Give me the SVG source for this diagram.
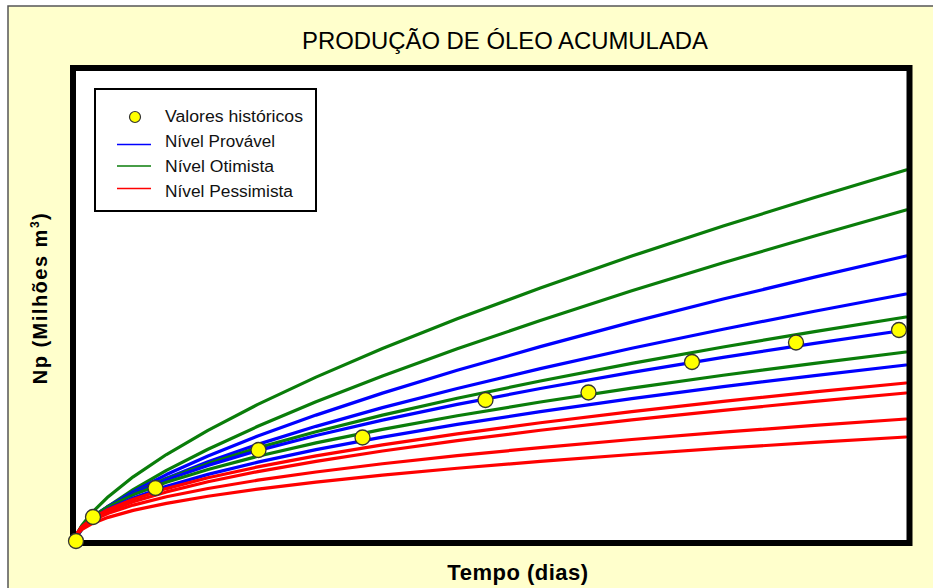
<svg xmlns="http://www.w3.org/2000/svg" width="933" height="588" viewBox="0 0 933 588">
<style>
.cv{fill:none;vector-effect:non-scaling-stroke;stroke-linejoin:round;stroke-linecap:round}
.g{stroke:#0a7d0a;stroke-width:3.2}
.b{stroke:#0000ff;stroke-width:3.2}
.r{stroke:#ff0000;stroke-width:3.2}
.dot{fill:#ffff00;stroke:#333;stroke-width:1.3}
.lt{font-family:"Liberation Sans",Arial,sans-serif;font-size:16px;fill:#111}
.ax{font-family:"Liberation Sans",Arial,sans-serif;font-weight:bold;fill:#000}
</style>
<defs>
<path id="c70" class="cv" d="M0,0 L0.002,0.0129 L0.008,0.0341 L0.02,0.0647 L0.04,0.1051 L0.07,0.1555 L0.11,0.2133 L0.16,0.2772 L0.22,0.3465 L0.29,0.4204 L0.37,0.4987 L0.46,0.5805 L0.56,0.6663 L0.67,0.7558 L0.78,0.8406 L0.89,0.9214 L1,1"/>
<path id="c66" class="cv" d="M0,0 L0.002,0.0165 L0.008,0.0413 L0.02,0.0756 L0.04,0.1195 L0.07,0.1729 L0.11,0.2331 L0.16,0.2982 L0.22,0.3682 L0.29,0.4417 L0.37,0.5189 L0.46,0.5988 L0.56,0.6819 L0.67,0.768 L0.78,0.849 L0.89,0.9257 L1,1"/>
<path id="c62" class="cv" d="M0,0 L0.002,0.0212 L0.008,0.0501 L0.02,0.0884 L0.04,0.1359 L0.07,0.1923 L0.11,0.2545 L0.16,0.321 L0.22,0.3911 L0.29,0.4642 L0.37,0.5399 L0.46,0.6177 L0.56,0.698 L0.67,0.7804 L0.78,0.8575 L0.89,0.9301 L1,1"/>
<path id="c58" class="cv" d="M0,0 L0.002,0.0272 L0.008,0.0608 L0.02,0.1034 L0.04,0.1546 L0.07,0.2139 L0.11,0.278 L0.16,0.3454 L0.22,0.4156 L0.29,0.4878 L0.37,0.5618 L0.46,0.6372 L0.56,0.7144 L0.67,0.793 L0.78,0.8661 L0.89,0.9344 L1,1"/>
<path id="c56" class="cv" d="M0,0 L0.002,0.0308 L0.008,0.067 L0.02,0.1118 L0.04,0.1649 L0.07,0.2256 L0.11,0.2906 L0.16,0.3583 L0.22,0.4283 L0.29,0.4999 L0.37,0.5731 L0.46,0.6472 L0.56,0.7227 L0.67,0.7993 L0.78,0.8703 L0.89,0.9366 L1,1"/>
<path id="c53" class="cv" d="M0,0 L0.002,0.0371 L0.008,0.0774 L0.02,0.1257 L0.04,0.1816 L0.07,0.2443 L0.11,0.3104 L0.16,0.3785 L0.22,0.4482 L0.29,0.5189 L0.37,0.5905 L0.46,0.6625 L0.56,0.7353 L0.67,0.809 L0.78,0.8769 L0.89,0.9399 L1,1"/>
<path id="c50" class="cv" d="M0,0 L0.002,0.0447 L0.008,0.0894 L0.02,0.1414 L0.04,0.2 L0.07,0.2646 L0.11,0.3317 L0.16,0.4 L0.22,0.469 L0.29,0.5385 L0.37,0.6083 L0.46,0.6782 L0.56,0.7483 L0.67,0.8185 L0.78,0.8832 L0.89,0.9434 L1,1"/>
<path id="c46" class="cv" d="M0,0 L0.002,0.0573 L0.008,0.1085 L0.02,0.1654 L0.04,0.2275 L0.07,0.2943 L0.11,0.3623 L0.16,0.4303 L0.22,0.4984 L0.29,0.5658 L0.37,0.633 L0.46,0.6995 L0.56,0.7658 L0.67,0.8319 L0.78,0.8922 L0.89,0.9476 L1,1"/>
</defs>
<rect x="0" y="0" width="933" height="588" fill="#ffffff"/>
<rect id="background" x="8" y="6" width="940" height="600" fill="#ffffcc" stroke="#555" stroke-width="1.5"/>
<text id="title" x="302" y="49" textLength="406" lengthAdjust="spacingAndGlyphs" style="font-family:'Liberation Sans',Arial,sans-serif;font-size:24px;fill:#000">PRODUÇÃO DE ÓLEO ACUMULADA</text>
<rect id="plot-area" x="73" y="68" width="836.5" height="475" fill="#ffffff"/>
<g id="curves">
<use href="#c66" class="g" transform="translate(75 541) scale(831 -371)"/>
<use href="#c70" class="g" transform="translate(75 541) scale(831 -331)"/>
<use href="#c66" class="b" transform="translate(75 541) scale(831 -285)"/>
<use href="#c62" class="b" transform="translate(75 541) scale(831 -247)"/>
<use href="#c58" class="g" transform="translate(75 541) scale(831 -224)"/>
<use href="#c56" class="b" transform="translate(75 541) scale(831 -211)"/>
<use href="#c53" class="g" transform="translate(75 541) scale(831 -189)"/>
<use href="#c53" class="b" transform="translate(75 541) scale(831 -176)"/>
<use href="#c50" class="r" transform="translate(75 541) scale(831 -158)"/>
<use href="#c50" class="r" transform="translate(75 541) scale(831 -148)"/>
<use href="#c46" class="r" transform="translate(75 541) scale(831 -122)"/>
<use href="#c46" class="r" transform="translate(75 541) scale(831 -104)"/>
</g>
<rect id="plot-frame" x="73" y="68" width="836.5" height="475" fill="none" stroke="#000" stroke-width="6"/>
<g id="historical-points">
<circle class="dot" cx="76" cy="541" r="7.5"/>
<circle class="dot" cx="93" cy="517" r="7.5"/>
<circle class="dot" cx="155.5" cy="488" r="7.5"/>
<circle class="dot" cx="258.5" cy="450" r="7.5"/>
<circle class="dot" cx="362.5" cy="437.5" r="7.5"/>
<circle class="dot" cx="485.5" cy="400" r="7.5"/>
<circle class="dot" cx="588.5" cy="392.5" r="7.5"/>
<circle class="dot" cx="692" cy="362" r="7.5"/>
<circle class="dot" cx="796" cy="342.5" r="7.5"/>
<circle class="dot" cx="899" cy="330" r="7.5"/>
</g>
<g id="legend">
<rect x="95" y="89" width="221" height="122" fill="#ffffff" stroke="#000" stroke-width="2"/>
<circle cx="135" cy="117" r="5.5" fill="#ffff00" stroke="#333" stroke-width="1.2"/>
<text class="lt" x="165" y="122" textLength="138" lengthAdjust="spacingAndGlyphs">Valores históricos</text>
<line x1="117" y1="144.5" x2="151" y2="144.5" stroke="#0000ff" stroke-width="1.5"/>
<text class="lt" x="165" y="147" textLength="110" lengthAdjust="spacingAndGlyphs">Nível Provável</text>
<line x1="117" y1="166" x2="151" y2="166" stroke="#0a7d0a" stroke-width="1.5"/>
<text class="lt" x="165" y="172" textLength="109" lengthAdjust="spacingAndGlyphs">Nível Otimista</text>
<line x1="117" y1="188.5" x2="151" y2="188.5" stroke="#ff0000" stroke-width="1.5"/>
<text class="lt" x="165" y="197" textLength="128" lengthAdjust="spacingAndGlyphs">Nível Pessimista</text>
</g>
<text id="y-label" class="ax" transform="translate(47 298) rotate(-90)" x="0" y="0" text-anchor="middle" style="font-size:20px;letter-spacing:1.5px">Np (Milhões m<tspan dy="-8" style="font-size:12px">3</tspan><tspan dy="8">)</tspan></text>
<text id="x-label" class="ax" x="518" y="580" text-anchor="middle" style="font-size:22px;letter-spacing:0.5px">Tempo (dias)</text>
</svg>
